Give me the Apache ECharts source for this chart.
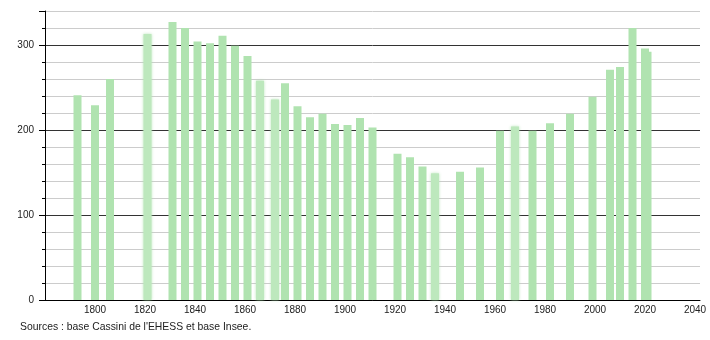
<!DOCTYPE html>
<html>
<head>
<meta charset="utf-8">
<script src="https://cdn.jsdelivr.net/npm/echarts@6/dist/echarts.min.js"></script>
<style>
  html, body { margin: 0; padding: 0; background: #fff; }
  #chart { width: 710px; height: 340px; }
</style>
</head>
<body>
<div id="chart"></div>
<script>
const years = [1793, 1800, 1806, 1821, 1831, 1836, 1841, 1846, 1851, 1856,
               1861, 1866, 1872, 1876, 1881, 1886, 1891, 1896, 1901, 1906,
               1911, 1921, 1926, 1931, 1936, 1946, 1954, 1962, 1968, 1975,
               1982, 1990, 1999, 2006, 2010, 2015, 2020, 2021];
const population = [241, 229, 260, 313, 327, 320, 304, 302, 311, 299,
                    287, 258, 236, 255, 228, 215, 219, 207, 206, 214,
                    203, 172, 168, 157, 149, 151, 156, 199, 204, 199,
                    208, 219, 239, 271, 274, 320, 296, 292];
const xTickLabels = [1800, 1820, 1840, 1860, 1880, 1900, 1920, 1940, 1960, 1980, 2000, 2020, 2040];
const yTickLabels = [0, 100, 200, 300];
const sourceText = "Sources : base Cassini de l'EHESS et base Insee.";

const blurred = new Set([1821, 1866, 1872, 1936, 1968]);

const seriesData = years.map((y, i) => {
  const item = { value: [y, population[i]] };
  if (blurred.has(y)) {
    item.itemStyle = { color: '#bde8bd', shadowBlur: 3, shadowColor: 'rgba(176,226,176,0.9)' };
  }
  return item;
});

const chart = echarts.init(document.getElementById('chart'), null, { renderer: 'canvas' });
const font = 'Liberation Sans, Arial, sans-serif';

chart.setOption({
  animation: false,
  backgroundColor: '#fff',
  grid: { left: 45, right: 10, top: 11, bottom: 40, containLabel: false },
  graphic: [{
    type: 'text', left: 20, top: 322,
    style: { text: sourceText, font: '10.4px ' + font, fill: '#222' }
  }],
  xAxis: {
    type: 'value', min: 1780, max: 2042, interval: 20,
    axisLine: { show: true, onZero: false, lineStyle: { color: '#000', width: 1 } },
    axisTick: { show: false },
    splitLine: { show: false },
    axisLabel: {
      margin: 5, color: '#222', fontSize: 10, fontFamily: font,
      formatter: v => xTickLabels.includes(v) ? String(v) : ''
    }
  },
  yAxis: [{
    type: 'value', min: 0, max: 340, interval: 20,
    axisLine: { show: true, lineStyle: { color: '#000', width: 1 } },
    axisTick: { show: true, length: 3, lineStyle: { color: '#000' } },
    splitLine: { show: true, lineStyle: { color: ['#333', '#ccc', '#ccc', '#ccc', '#ccc'], width: 1 } },
    axisLabel: {
      margin: 11, color: '#222', fontSize: 10, fontFamily: font,
      formatter: v => yTickLabels.includes(v) ? String(v) : ''
    }
  }, {
    type: 'value', min: 0, max: 340, interval: 100, position: 'left',
    axisLine: { show: false },
    axisTick: { show: true, length: 6, lineStyle: { color: '#000' } },
    splitLine: { show: false },
    axisLabel: { show: false }
  }],
  series: [{
    type: 'bar',
    yAxisIndex: 0,
    barWidth: 8,
    itemStyle: { color: '#b0e3b0' },
    data: seriesData,
    z: 3
  }]
});
</script>
</body>
</html>
